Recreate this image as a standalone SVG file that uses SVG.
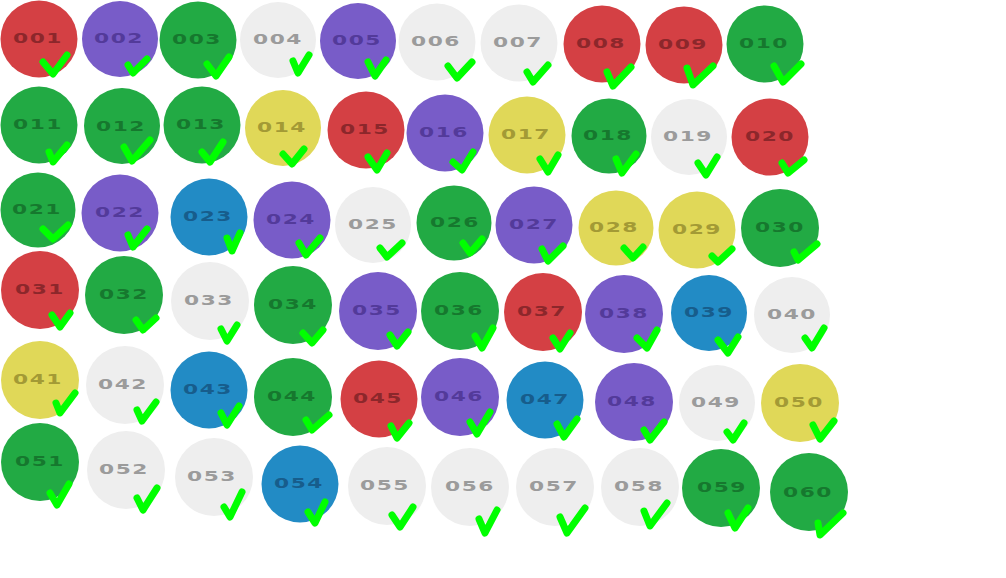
<svg xmlns="http://www.w3.org/2000/svg" width="1006" height="578" viewBox="0 0 1006 578">
<style>
circle{stroke:none}
text{font-family:"DejaVu Sans","Liberation Sans",sans-serif;font-weight:bold;font-size:14px;text-anchor:middle;letter-spacing:1px}
polyline{fill:none;stroke:#00ff00;stroke-width:7;stroke-linecap:round;stroke-linejoin:round}
.r circle{fill:#d44044}.r text{fill:#8c272b}
.p circle{fill:#785cc8}.p text{fill:#533a9a}
.g circle{fill:#22aa44}.g text{fill:#16782e}
.w circle{fill:#eeeeee}.w text{fill:#9b9b9b}
.y circle{fill:#e0d858}.y text{fill:#a39a35}
.b circle{fill:#228bc5}.b text{fill:#175d8c}
</style>
<rect width="1006" height="578" fill="#ffffff"/>
<g id="n001" class="r"><circle cx="39" cy="39" r="38.5"/><text x="38" y="43" textLength="50" lengthAdjust="spacingAndGlyphs">001</text><polyline points="43,62 53,74 67,55"/></g>
<g id="n002" class="p"><circle cx="120" cy="39" r="38"/><text x="119" y="43" textLength="50" lengthAdjust="spacingAndGlyphs">002</text><polyline points="128,65 133,73 147,59"/></g>
<g id="n003" class="g"><circle cx="198" cy="40" r="38.5"/><text x="197" y="44" textLength="50" lengthAdjust="spacingAndGlyphs">003</text><polyline points="207,64 216,76 229,57"/></g>
<g id="n004" class="w"><circle cx="278" cy="40" r="38"/><text x="278" y="44" textLength="50" lengthAdjust="spacingAndGlyphs">004</text><polyline points="293,61 298,73 309,55"/></g>
<g id="n005" class="p"><circle cx="358" cy="41" r="38"/><text x="357" y="45" textLength="50" lengthAdjust="spacingAndGlyphs">005</text><polyline points="368,62 375,76 386,60"/></g>
<g id="n006" class="w"><circle cx="437" cy="42" r="38.5"/><text x="436" y="46" textLength="50" lengthAdjust="spacingAndGlyphs">006</text><polyline points="448,66 457,78 472,62"/></g>
<g id="n007" class="w"><circle cx="519" cy="43" r="38.5"/><text x="518" y="47" textLength="50" lengthAdjust="spacingAndGlyphs">007</text><polyline points="527,72 533,82 548,65"/></g>
<g id="n008" class="r"><circle cx="602" cy="44" r="38.5"/><text x="601" y="48" textLength="50" lengthAdjust="spacingAndGlyphs">008</text><polyline points="607,72 613,86 631,67"/></g>
<g id="n009" class="r"><circle cx="684" cy="45" r="38.5"/><text x="683" y="49" textLength="50" lengthAdjust="spacingAndGlyphs">009</text><polyline points="687,68 693,85 713,66"/></g>
<g id="n010" class="g"><circle cx="765" cy="44" r="38.5"/><text x="764" y="48" textLength="50" lengthAdjust="spacingAndGlyphs">010</text><polyline points="774,66 783,82 801,64"/></g>
<g id="n011" class="g"><circle cx="39" cy="125" r="38.5"/><text x="38" y="129" textLength="50" lengthAdjust="spacingAndGlyphs">011</text><polyline points="49,152 53,162 67,145"/></g>
<g id="n012" class="g"><circle cx="122" cy="126" r="38"/><text x="121" y="131" textLength="50" lengthAdjust="spacingAndGlyphs">012</text><polyline points="124,147 132,161 150,140"/></g>
<g id="n013" class="g"><circle cx="202" cy="125" r="38.5"/><text x="201" y="129" textLength="50" lengthAdjust="spacingAndGlyphs">013</text><polyline points="202,152 210,162 223,142"/></g>
<g id="n014" class="y"><circle cx="283" cy="128" r="38"/><text x="282" y="132" textLength="50" lengthAdjust="spacingAndGlyphs">014</text><polyline points="283,154 292,164 304,149"/></g>
<g id="n015" class="r"><circle cx="366" cy="130" r="38.5"/><text x="365" y="134" textLength="50" lengthAdjust="spacingAndGlyphs">015</text><polyline points="368,157 377,170 387,153"/></g>
<g id="n016" class="p"><circle cx="445" cy="133" r="38.5"/><text x="444" y="137" textLength="50" lengthAdjust="spacingAndGlyphs">016</text><polyline points="453,162 462,170 473,152"/></g>
<g id="n017" class="y"><circle cx="527" cy="135" r="38.5"/><text x="526" y="139" textLength="50" lengthAdjust="spacingAndGlyphs">017</text><polyline points="540,159 548,172 558,155"/></g>
<g id="n018" class="g"><circle cx="609" cy="136" r="37.5"/><text x="608" y="140" textLength="50" lengthAdjust="spacingAndGlyphs">018</text><polyline points="616,159 622,173 636,154"/></g>
<g id="n019" class="w"><circle cx="689" cy="137" r="38"/><text x="688" y="141" textLength="50" lengthAdjust="spacingAndGlyphs">019</text><polyline points="698,163 706,175 717,157"/></g>
<g id="n020" class="r"><circle cx="770" cy="137" r="38.5"/><text x="770" y="141" textLength="50" lengthAdjust="spacingAndGlyphs">020</text><polyline points="782,163 788,173 804,160"/></g>
<g id="n021" class="g"><circle cx="38" cy="210" r="37.5"/><text x="37" y="214" textLength="50" lengthAdjust="spacingAndGlyphs">021</text><polyline points="43,229 53,239 68,225"/></g>
<g id="n022" class="p"><circle cx="120" cy="213" r="38.5"/><text x="120" y="217" textLength="50" lengthAdjust="spacingAndGlyphs">022</text><polyline points="128,235 133,247 147,229"/></g>
<g id="n023" class="b"><circle cx="209" cy="217" r="38.5"/><text x="208" y="221" textLength="50" lengthAdjust="spacingAndGlyphs">023</text><polyline points="227,238 232,251 240,233"/></g>
<g id="n024" class="p"><circle cx="292" cy="220" r="38.5"/><text x="291" y="224" textLength="50" lengthAdjust="spacingAndGlyphs">024</text><polyline points="299,243 306,255 320,238"/></g>
<g id="n025" class="w"><circle cx="373" cy="225" r="38"/><text x="373" y="229" textLength="50" lengthAdjust="spacingAndGlyphs">025</text><polyline points="380,248 387,257 402,243"/></g>
<g id="n026" class="g"><circle cx="454" cy="223" r="37.5"/><text x="455" y="227" textLength="50" lengthAdjust="spacingAndGlyphs">026</text><polyline points="463,243 470,253 482,239"/></g>
<g id="n027" class="p"><circle cx="534" cy="225" r="38.5"/><text x="534" y="229" textLength="50" lengthAdjust="spacingAndGlyphs">027</text><polyline points="542,249 548,261 563,246"/></g>
<g id="n028" class="y"><circle cx="616" cy="228" r="37.5"/><text x="614" y="232" textLength="50" lengthAdjust="spacingAndGlyphs">028</text><polyline points="624,248 633,258 643,247"/></g>
<g id="n029" class="y"><circle cx="697" cy="230" r="38.5"/><text x="697" y="234" textLength="50" lengthAdjust="spacingAndGlyphs">029</text><polyline points="712,256 718,262 732,249"/></g>
<g id="n030" class="g"><circle cx="780" cy="228" r="39"/><text x="780" y="232" textLength="50" lengthAdjust="spacingAndGlyphs">030</text><polyline points="794,252 798,260 817,244"/></g>
<g id="n031" class="r"><circle cx="40" cy="290" r="39"/><text x="40" y="294" textLength="50" lengthAdjust="spacingAndGlyphs">031</text><polyline points="52,315 60,327 70,313"/></g>
<g id="n032" class="g"><circle cx="124" cy="295" r="39"/><text x="124" y="299" textLength="50" lengthAdjust="spacingAndGlyphs">032</text><polyline points="136,320 143,330 156,318"/></g>
<g id="n033" class="w"><circle cx="210" cy="301" r="39"/><text x="209" y="305" textLength="50" lengthAdjust="spacingAndGlyphs">033</text><polyline points="221,329 227,341 237,325"/></g>
<g id="n034" class="g"><circle cx="293" cy="305" r="39"/><text x="293" y="309" textLength="50" lengthAdjust="spacingAndGlyphs">034</text><polyline points="303,333 312,343 323,330"/></g>
<g id="n035" class="p"><circle cx="378" cy="311" r="39"/><text x="377" y="315" textLength="50" lengthAdjust="spacingAndGlyphs">035</text><polyline points="390,335 397,346 408,332"/></g>
<g id="n036" class="g"><circle cx="460" cy="311" r="39"/><text x="459" y="315" textLength="50" lengthAdjust="spacingAndGlyphs">036</text><polyline points="475,336 482,348 493,328"/></g>
<g id="n037" class="r"><circle cx="543" cy="312" r="39"/><text x="542" y="316" textLength="50" lengthAdjust="spacingAndGlyphs">037</text><polyline points="553,338 560,349 570,333"/></g>
<g id="n038" class="p"><circle cx="624" cy="314" r="39"/><text x="624" y="318" textLength="50" lengthAdjust="spacingAndGlyphs">038</text><polyline points="637,338 647,348 657,330"/></g>
<g id="n039" class="b"><circle cx="709" cy="313" r="38"/><text x="709" y="317" textLength="50" lengthAdjust="spacingAndGlyphs">039</text><polyline points="718,340 728,353 738,337"/></g>
<g id="n040" class="w"><circle cx="792" cy="315" r="38"/><text x="792" y="319" textLength="50" lengthAdjust="spacingAndGlyphs">040</text><polyline points="805,338 812,348 824,328"/></g>
<g id="n041" class="y"><circle cx="40" cy="380" r="39"/><text x="38" y="384" textLength="50" lengthAdjust="spacingAndGlyphs">041</text><polyline points="56,403 60,413 75,393"/></g>
<g id="n042" class="w"><circle cx="125" cy="385" r="39"/><text x="123" y="389" textLength="50" lengthAdjust="spacingAndGlyphs">042</text><polyline points="137,410 142,421 156,402"/></g>
<g id="n043" class="b"><circle cx="209" cy="390" r="38.5"/><text x="208" y="394" textLength="50" lengthAdjust="spacingAndGlyphs">043</text><polyline points="221,413 227,425 239,406"/></g>
<g id="n044" class="g"><circle cx="293" cy="397" r="39"/><text x="292" y="401" textLength="50" lengthAdjust="spacingAndGlyphs">044</text><polyline points="306,420 312,430 329,415"/></g>
<g id="n045" class="r"><circle cx="379" cy="399" r="38.5"/><text x="378" y="403" textLength="50" lengthAdjust="spacingAndGlyphs">045</text><polyline points="391,426 397,438 409,423"/></g>
<g id="n046" class="p"><circle cx="460" cy="397" r="39"/><text x="459" y="401" textLength="50" lengthAdjust="spacingAndGlyphs">046</text><polyline points="470,422 477,434 490,412"/></g>
<g id="n047" class="b"><circle cx="545" cy="400" r="38.5"/><text x="545" y="404" textLength="50" lengthAdjust="spacingAndGlyphs">047</text><polyline points="557,424 564,437 577,419"/></g>
<g id="n048" class="p"><circle cx="634" cy="402" r="39"/><text x="632" y="406" textLength="50" lengthAdjust="spacingAndGlyphs">048</text><polyline points="644,430 650,440 664,422"/></g>
<g id="n049" class="w"><circle cx="717" cy="403" r="38"/><text x="716" y="407" textLength="50" lengthAdjust="spacingAndGlyphs">049</text><polyline points="727,432 733,440 744,423"/></g>
<g id="n050" class="y"><circle cx="800" cy="403" r="39"/><text x="799" y="407" textLength="50" lengthAdjust="spacingAndGlyphs">050</text><polyline points="813,425 820,439 834,421"/></g>
<g id="n051" class="g"><circle cx="40" cy="462" r="39"/><text x="40" y="466" textLength="50" lengthAdjust="spacingAndGlyphs">051</text><polyline points="50,493 57,505 69,484"/></g>
<g id="n052" class="w"><circle cx="126" cy="470" r="39"/><text x="124" y="474" textLength="50" lengthAdjust="spacingAndGlyphs">052</text><polyline points="137,498 143,510 157,488"/></g>
<g id="n053" class="w"><circle cx="214" cy="477" r="39"/><text x="212" y="481" textLength="50" lengthAdjust="spacingAndGlyphs">053</text><polyline points="224,507 230,517 242,492"/></g>
<g id="n054" class="b"><circle cx="300" cy="484" r="38.5"/><text x="299" y="488" textLength="50" lengthAdjust="spacingAndGlyphs">054</text><polyline points="308,512 315,523 325,502"/></g>
<g id="n055" class="w"><circle cx="387" cy="486" r="39"/><text x="385" y="490" textLength="50" lengthAdjust="spacingAndGlyphs">055</text><polyline points="392,515 400,527 413,507"/></g>
<g id="n056" class="w"><circle cx="470" cy="487" r="39"/><text x="470" y="491" textLength="50" lengthAdjust="spacingAndGlyphs">056</text><polyline points="479,519 485,533 497,510"/></g>
<g id="n057" class="w"><circle cx="555" cy="487" r="39"/><text x="554" y="491" textLength="50" lengthAdjust="spacingAndGlyphs">057</text><polyline points="560,517 567,533 585,508"/></g>
<g id="n058" class="w"><circle cx="640" cy="487" r="39"/><text x="639" y="491" textLength="50" lengthAdjust="spacingAndGlyphs">058</text><polyline points="644,511 650,526 667,503"/></g>
<g id="n059" class="g"><circle cx="721" cy="488" r="39"/><text x="722" y="492" textLength="50" lengthAdjust="spacingAndGlyphs">059</text><polyline points="728,513 735,528 748,508"/></g>
<g id="n060" class="g"><circle cx="809" cy="492" r="39"/><text x="808" y="497" textLength="50" lengthAdjust="spacingAndGlyphs">060</text><polyline points="818,523 820,535 843,513"/></g>
<g id="connectors"/>
</svg>
